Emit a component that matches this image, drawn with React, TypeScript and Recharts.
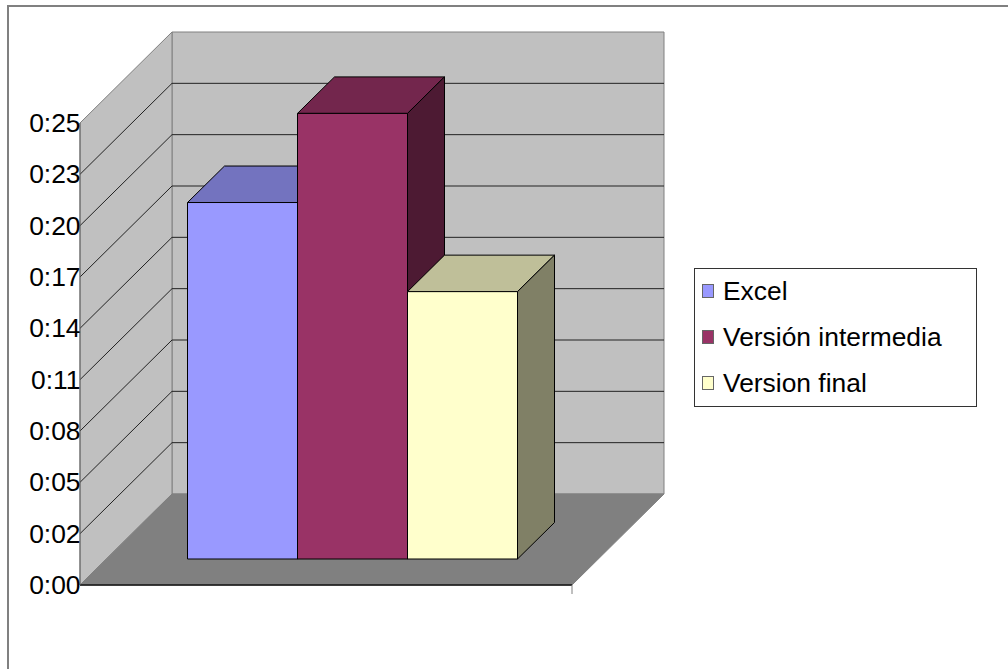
import { BarChart, Bar, XAxis, YAxis, Legend, ReferenceArea } from "recharts"

// elapsed time per version, in minutes
const categories = [""]
const seriesNames = ["Excel", "Versión intermedia", "Version final"]
const seriesValues = [20, 25, 15]
const seriesColors = ["#9999ff", "#993366", "#ffffcc"]
const topColors = ["#7373bf", "#73264d", "#bfbf99"]
const sideColors = ["#4d4d80", "#4d1a33", "#808066"]

// axis steps of 0.002 days, expressed in minutes
const yTicks = [0, 2.88, 5.76, 8.64, 11.52, 14.4, 17.28, 20.16, 23.04, 25.92]
const yTickLabels = ["0:00", "0:02", "0:05", "0:08", "0:11", "0:14", "0:17", "0:20", "0:23", "0:25"]

const rows = categories.map((name) => {
	const row: Record<string, string | number> = { name }
	seriesNames.forEach((s, i) => {
		row[s] = seriesValues[i]
	})
	return row
})

// fake perspective: how far the walls and bar depth are shifted from the bar plane
const FRONT = { dx: -26.5, dy: 26 }
const BACK = { dx: 65.5, dy: -65 }
const BAR_DEPTH = { dx: 37, dy: -36.5 }

const FONT = '"Liberation Sans", Arial, sans-serif'

const pts = (list: number[][]) => list.map((p) => p.join(",")).join(" ")

const Room = ({ x, y, width, height }: any) => {
	const fl = x + FRONT.dx
	const fr = fl + width
	const bl = x + BACK.dx
	const br = bl + width
	const ft = y + FRONT.dy
	const fb = ft + height
	const bt = y + BACK.dy
	const bb = bt + height
	const max = yTicks[yTicks.length - 1]
	const inner = yTicks.slice(1, -1).map((t) => height * (1 - t / max))
	return (
		<g>
			<polygon points={pts([[bl, bt], [br, bt], [br, bb], [bl, bb]])} fill="#c0c0c0" stroke="#808080" />
			<polygon points={pts([[fl, ft], [bl, bt], [bl, bb], [fl, fb]])} fill="#c0c0c0" stroke="#808080" />
			<polygon points={pts([[fl, fb], [fr, fb], [br, bb], [bl, bb]])} fill="#808080" stroke="#808080" />
			{inner.map((d) => (
				<g key={d} stroke="#222" fill="none">
					<line x1={bl} y1={bt + d} x2={br} y2={bt + d} />
					<line x1={fl} y1={ft + d} x2={bl} y2={bt + d} />
				</g>
			))}
			<line x1={fl} y1={fb} x2={fr} y2={fb} stroke="#111" strokeWidth={1.5} />
			<line x1={fl} y1={ft} x2={fl} y2={fb} stroke="#666" />
			<line x1={fr} y1={fb} x2={fr} y2={fb + 9} stroke="#808080" />
		</g>
	)
}

const bar3d = (index: number) => (props: any) => {
	const { x, y, width, height, fill } = props
	const { dx, dy } = BAR_DEPTH
	return (
		<g stroke="#000" strokeLinejoin="round">
			<polygon
				points={pts([[x, y], [x + dx, y + dy], [x + width + dx, y + dy], [x + width, y]])}
				fill={topColors[index]}
			/>
			<polygon
				points={pts([[x + width, y], [x + width + dx, y + dy], [x + width + dx, y + height + dy], [x + width, y + height]])}
				fill={sideColors[index]}
			/>
			<rect x={x} y={y} width={width} height={height} fill={fill} />
		</g>
	)
}

const TimeTick = ({ x, y, index }: any) => (
	<text x={x + FRONT.dx + 8.5} y={y + FRONT.dy} textAnchor="end" dominantBaseline="central" fontFamily={FONT} fontSize={26.4} fill="#000">
		{yTickLabels[index]}
	</text>
)

const LegendBox = ({ payload }: any) => (
	<div
		style={{
			width: 283,
			height: 139,
			boxSizing: "border-box",
			border: "1px solid #333",
			background: "#fff",
			fontFamily: FONT,
			fontSize: 26.4,
			color: "#000",
		}}
	>
		{payload.map((item: any, i: number) => (
			<div
				key={item.value}
				style={{ display: "flex", alignItems: "center", height: 46, paddingLeft: 7, marginTop: i === 0 ? -1 : 0 }}
			>
				<span
					style={{
						width: 12,
						height: 14,
						boxSizing: "border-box",
						background: item.color,
						border: "1px solid #666",
						marginRight: 9,
					}}
				/>
				{item.value}
			</div>
		))}
	</div>
)

export default function App() {
	return (
		<div style={{ position: "absolute", left: 0, top: 0, width: 1008, height: 669, overflow: "hidden", background: "#fff" }}>
			<div
				style={{
					position: "absolute",
					left: 7,
					top: 5,
					width: 1100,
					height: 800,
					border: "2px solid #808080",
				}}
			/>
			<BarChart
				width={1008}
				height={669}
				data={rows}
				margin={{ top: 97, right: 409.5, bottom: 110, left: 0 }}
				barSize={110}
				barGap={0}
				style={{ position: "absolute", left: 0, top: 0 }}
			>
				<XAxis dataKey="name" hide />
				<YAxis
					width={106.5}
					domain={[0, yTicks[yTicks.length - 1]]}
					ticks={yTicks}
					interval={0}
					axisLine={false}
					tickLine={false}
					tick={TimeTick}
				/>
				<ReferenceArea y1={0} y2={yTicks[yTicks.length - 1]} shape={Room} ifOverflow="visible" />
				{seriesNames.map((s, i) => (
					<Bar key={s} dataKey={s} fill={seriesColors[i]} shape={bar3d(i)} isAnimationActive={false} />
				))}
				<Legend
					layout="vertical"
					align="center"
					verticalAlign="middle"
					itemSorter={null}
					content={LegendBox}
					wrapperStyle={{ left: 694, top: 268, width: 283, height: 139 }}
				/>
			</BarChart>
		</div>
	)
}
